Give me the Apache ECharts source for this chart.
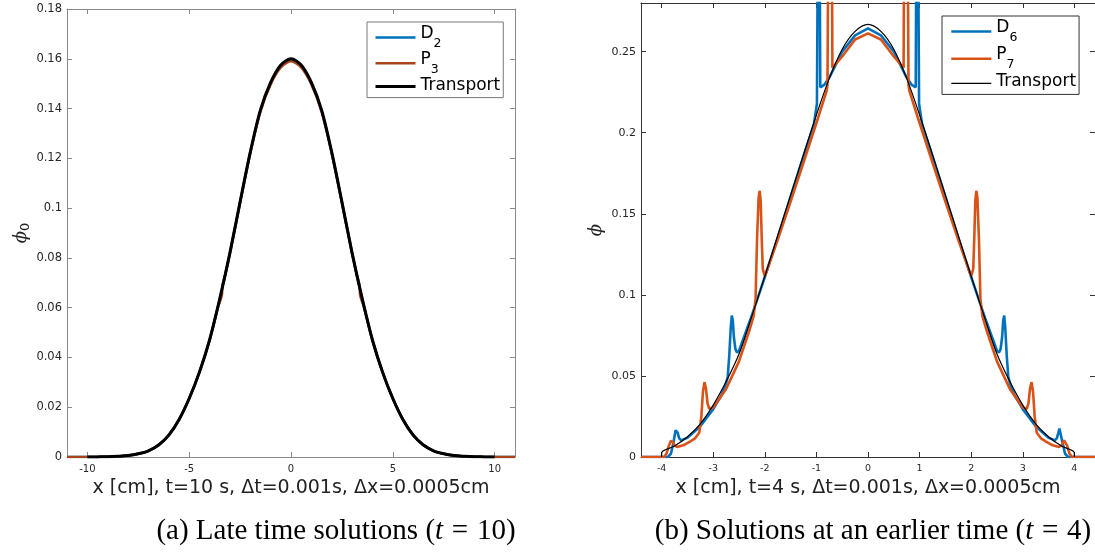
<!DOCTYPE html>
<html>
<head>
<meta charset="utf-8">
<script src="https://cdn.jsdelivr.net/npm/echarts@6/dist/echarts.min.js"></script>
<style>
  html, body { margin: 0; padding: 0; background: #fff; }
  #chart { width: 1095px; height: 552px; }
</style>
</head>
<body>
<div id="chart"></div>
<script>
// ---- panel (a): late time, t = 10 ----
const ticksXA = [-10, -5, 0, 5, 10];
const ticksYA = [0, 0.02, 0.04, 0.06, 0.08, 0.1, 0.12, 0.14, 0.16, 0.18];

const d2A = [
  [-11, 0], [-10, 0], [-9.5, 0.00005], [-9, 0.0001], [-8.5, 0.0003], [-8, 0.0006], [-7.5, 0.0013],
  [-7, 0.0025], [-6.5, 0.0048], [-6, 0.0088], [-5.5, 0.0150], [-5, 0.0235], [-4.5, 0.0340],
  [-4, 0.0469], [-3.5, 0.0634], [-3, 0.0819], [-2.5, 0.1024], [-2, 0.1223], [-1.5, 0.1392],
  [-1, 0.1502], [-0.5, 0.1571], [0, 0.1596], [0.5, 0.1571], [1, 0.1502], [1.5, 0.1392],
  [2, 0.1223], [2.5, 0.1024], [3, 0.0819], [3.5, 0.0634], [4, 0.0469], [4.5, 0.0340],
  [5, 0.0235], [5.5, 0.0150], [6, 0.0088], [6.5, 0.0048], [7, 0.0025], [7.5, 0.0013],
  [8, 0.0006], [8.5, 0.0003], [9, 0.0001], [9.5, 0.00005], [10, 0], [11, 0]
];

const p3A = [
  [-11, 0], [-10, 0], [-9.5, 0.00005], [-9, 0.0001], [-8.5, 0.0003], [-8, 0.0006], [-7.5, 0.0013],
  [-7, 0.0025], [-6.5, 0.0048], [-6, 0.0088], [-5.5, 0.0150], [-5, 0.0235], [-4.5, 0.0340],
  [-4, 0.0468], [-3.6, 0.0598], [-3.39, 0.0652], [-3.37, 0.0688], [-3.2, 0.0742], [-3, 0.0818],
  [-2.5, 0.1022], [-2, 0.1220], [-1.5, 0.1388], [-1, 0.1497], [-0.5, 0.1565], [0, 0.1590],
  [0.5, 0.1565], [1, 0.1497], [1.5, 0.1388], [2, 0.1220], [2.5, 0.1022], [3, 0.0818],
  [3.2, 0.0742], [3.37, 0.0688], [3.39, 0.0652], [3.6, 0.0598], [4, 0.0468], [4.5, 0.0340],
  [5, 0.0235], [5.5, 0.0150], [6, 0.0088], [6.5, 0.0048], [7, 0.0025], [7.5, 0.0013],
  [8, 0.0006], [8.5, 0.0003], [9, 0.0001], [9.5, 0.00005], [10, 0], [11, 0]
];

const transportA = [
  [-10, 0], [-9.5, 0.00005], [-9, 0.0001], [-8.5, 0.0003], [-8, 0.0006], [-7.5, 0.0013],
  [-7, 0.0025], [-6.5, 0.0048], [-6, 0.0088], [-5.5, 0.0150], [-5, 0.0235], [-4.5, 0.0340],
  [-4, 0.0470], [-3.5, 0.0635], [-3, 0.0820], [-2.5, 0.1025], [-2, 0.1225], [-1.5, 0.1395],
  [-1, 0.1505], [-0.5, 0.1575], [0, 0.1600], [0.5, 0.1575], [1, 0.1505], [1.5, 0.1395],
  [2, 0.1225], [2.5, 0.1025], [3, 0.0820], [3.5, 0.0635], [4, 0.0470], [4.5, 0.0340],
  [5, 0.0235], [5.5, 0.0150], [6, 0.0088], [6.5, 0.0048], [7, 0.0025], [7.5, 0.0013],
  [8, 0.0006], [8.5, 0.0003], [9, 0.0001], [9.5, 0.00005], [10, 0]
];

// ---- panel (b): earlier time, t = 4 ----
const ticksXB = [-4, -3, -2, -1, 0, 1, 2, 3, 4];
const ticksYB = [0, 0.05, 0.1, 0.15, 0.2, 0.25];

const d6B = [
  [-4.4, 0], [-3.88, 0], [-3.82, 0.002], [-3.77, 0.009], [-3.73, 0.0165], [-3.71, 0.0175],
  [-3.69, 0.015], [-3.66, 0.0115], [-3.62, 0.0103], [-3.5, 0.0118], [-3.25, 0.0190],
  [-3.0, 0.0295], [-2.85, 0.0375], [-2.76, 0.0445], [-2.72, 0.0493], [-2.69, 0.062],
  [-2.66, 0.080], [-2.64, 0.0872], [-2.62, 0.084], [-2.60, 0.074], [-2.57, 0.0665],
  [-2.54, 0.0645], [-2.5, 0.0655], [-2.25, 0.0875], [-2.0, 0.1110], [-1.75, 0.1355],
  [-1.5, 0.1605], [-1.25, 0.1855], [-1.05, 0.2050], [-0.99, 0.2177], [-0.975, 0.30],
  [-0.96, 0.45], [-0.945, 0.45], [-0.935, 0.30], [-0.925, 0.2280], [-0.85, 0.2295],
  [-0.75, 0.2340], [-0.5, 0.2500], [-0.25, 0.2600], [0, 0.2644],
  [0.25, 0.2600], [0.5, 0.2500], [0.75, 0.2340], [0.85, 0.2295], [0.925, 0.2280],
  [0.935, 0.30], [0.945, 0.45], [0.96, 0.45], [0.975, 0.30], [0.99, 0.2177], [1.05, 0.2050],
  [1.25, 0.1855], [1.5, 0.1605], [1.75, 0.1355], [2.0, 0.1110], [2.25, 0.0875],
  [2.5, 0.0655], [2.54, 0.0645], [2.57, 0.0665], [2.60, 0.074], [2.62, 0.084], [2.64, 0.0872],
  [2.66, 0.080], [2.69, 0.062], [2.72, 0.0493], [2.76, 0.0445], [2.85, 0.0375], [3.0, 0.0295],
  [3.25, 0.0190], [3.5, 0.0118], [3.62, 0.0103], [3.66, 0.0115], [3.69, 0.015], [3.71, 0.0175],
  [3.73, 0.0165], [3.77, 0.009], [3.82, 0.002], [3.88, 0], [4.4, 0]
];

const p7B = [
  [-4.4, 0], [-3.95, 0], [-3.90, 0.0025], [-3.86, 0.007], [-3.82, 0.0100], [-3.80, 0.0103],
  [-3.78, 0.009], [-3.75, 0.007], [-3.70, 0.0062], [-3.58, 0.0072], [-3.45, 0.0095],
  [-3.36, 0.0113], [-3.27, 0.0150], [-3.23, 0.025], [-3.20, 0.040], [-3.17, 0.0462],
  [-3.14, 0.042], [-3.11, 0.033], [-3.08, 0.0298], [-3.0, 0.0305], [-2.75, 0.0420],
  [-2.5, 0.0590], [-2.3, 0.0780], [-2.22, 0.0865], [-2.18, 0.097], [-2.15, 0.135],
  [-2.12, 0.160], [-2.10, 0.1642], [-2.08, 0.158], [-2.06, 0.135], [-2.04, 0.116],
  [-2.0, 0.1115], [-1.75, 0.1340], [-1.5, 0.1575], [-1.25, 0.1815], [-1.0, 0.2060],
  [-0.80, 0.2260], [-0.785, 0.2295], [-0.77, 0.32], [-0.75, 0.45], [-0.72, 0.45],
  [-0.70, 0.32], [-0.69, 0.2400], [-0.5, 0.2470], [-0.25, 0.2575], [0, 0.2613],
  [0.25, 0.2575], [0.5, 0.2470], [0.69, 0.2400], [0.70, 0.32], [0.72, 0.45], [0.75, 0.45],
  [0.77, 0.32], [0.785, 0.2295], [0.80, 0.2260], [1.0, 0.2060], [1.25, 0.1815], [1.5, 0.1575],
  [1.75, 0.1340], [2.0, 0.1115], [2.04, 0.116], [2.06, 0.135], [2.08, 0.158], [2.10, 0.1642],
  [2.12, 0.160], [2.15, 0.135], [2.18, 0.097], [2.22, 0.0865], [2.3, 0.0780], [2.5, 0.0590],
  [2.75, 0.0420], [3.0, 0.0305], [3.08, 0.0298], [3.11, 0.033], [3.14, 0.042], [3.17, 0.0462],
  [3.20, 0.040], [3.23, 0.025], [3.27, 0.0150], [3.36, 0.0113], [3.45, 0.0095], [3.58, 0.0072],
  [3.70, 0.0062], [3.75, 0.007], [3.78, 0.009], [3.80, 0.0103], [3.82, 0.0100], [3.86, 0.007],
  [3.90, 0.0025], [3.95, 0], [4.4, 0]
];

const transportB = [
  [-4.0, 0], [-3.995, 0.003], [-3.75, 0.0068], [-3.5, 0.0125], [-3.25, 0.0205], [-3.0, 0.032],
  [-2.75, 0.0465], [-2.5, 0.0635], [-2.25, 0.087], [-2.0, 0.1115], [-1.75, 0.1365],
  [-1.5, 0.1615], [-1.25, 0.1865], [-1.0, 0.2110], [-0.75, 0.2335], [-0.5, 0.2515],
  [-0.25, 0.2625], [0, 0.2668], [0.25, 0.2625], [0.5, 0.2515], [0.75, 0.2335], [1.0, 0.2110],
  [1.25, 0.1865], [1.5, 0.1615], [1.75, 0.1365], [2.0, 0.1115], [2.25, 0.087], [2.5, 0.0635],
  [2.75, 0.0465], [3.0, 0.032], [3.25, 0.0205], [3.5, 0.0125], [3.75, 0.0068], [3.995, 0.003],
  [4.0, 0]
];

// ---- styling ----
const SANS = 'DejaVu Sans';
const SERIF = 'Liberation Serif';
const legendText = {
  'D2': '{n|D}{s|2}', 'P3': '{n|P}{s|3}', 'Transport t=10': '{n|Transport}',
  'D6': '{n|D}{s|6}', 'P7': '{n|P}{s|7}', 'Transport t=4': '{n|Transport}'
};
const legendRich = {
  n: { fontFamily: SANS, fontSize: 17, color: '#000', verticalAlign: 'top', lineHeight: 20 },
  s: { fontFamily: SANS, fontSize: 12.5, color: '#000', padding: [12, 0, 0, 0] }
};

function xAxisPair(grid, min, max, ticks, axisColor, labelSize, name) {
  const common = {
    type: 'value', gridIndex: grid, min: min, max: max,
    splitLine: { show: false },
    axisLine: { show: true, onZero: false, lineStyle: { color: axisColor, width: 1 } },
    axisTick: { show: true, inside: true, length: 5, customValues: ticks, lineStyle: { color: axisColor } }
  };
  return [
    Object.assign({}, common, {
      position: 'bottom',
      axisLabel: { customValues: ticks, fontFamily: SANS, fontSize: labelSize, color: '#262626', margin: 7 },
      name: name, nameLocation: 'middle', nameGap: 18,
      nameTextStyle: { fontFamily: SANS, fontSize: 19, color: '#222' }
    }),
    Object.assign({}, common, { position: 'top', axisLabel: { show: false } })
  ];
}

function yAxisPair(grid, min, max, ticks, axisColor, labelSize, nameRich, nameGap) {
  const common = {
    type: 'value', gridIndex: grid, min: min, max: max,
    splitLine: { show: false },
    axisLine: { show: true, onZero: false, lineStyle: { color: axisColor, width: 1 } },
    axisTick: { show: true, inside: true, length: 5, customValues: ticks, lineStyle: { color: axisColor } }
  };
  return [
    Object.assign({}, common, {
      position: 'left',
      axisLabel: { customValues: ticks, fontFamily: SANS, fontSize: labelSize, color: '#262626', margin: 5 },
      name: nameRich, nameLocation: 'middle', nameRotate: 90, nameGap: nameGap,
      nameTextStyle: {
        rich: {
          p: { fontFamily: 'DejaVu Serif', fontStyle: 'italic', fontSize: 18, color: '#222' },
          s: { fontFamily: SANS, fontSize: 13, color: '#222', padding: [10, 0, 0, 0] }
        }
      }
    }),
    Object.assign({}, common, { position: 'right', axisLabel: { show: false } })
  ];
}

function lineSeries(name, data, color, width, xi, yi, smooth) {
  return {
    type: 'line', name: name, data: data, xAxisIndex: xi, yAxisIndex: yi,
    symbol: 'none', smooth: smooth, clip: true,
    lineStyle: { color: color, width: width }, itemStyle: { color: color },
    emphasis: { disabled: true }
  };
}

const captionRich = {
  r: { fontFamily: SERIF, fontSize: 29, fill: '#000' },
  i: { fontFamily: SERIF, fontSize: 29, fontStyle: 'italic', fill: '#000' },
  e: { fontFamily: SERIF, fontSize: 29, fill: '#000', padding: [0, 1.5, 0, 1.5] }
};

const chart = echarts.init(document.getElementById('chart'), null, { renderer: 'canvas' });

const option = {
  animation: false,
  backgroundColor: '#fff',
  grid: [
    { left: 67, top: 9, width: 448, height: 448 },
    { left: 641, top: 3, width: 456, height: 454 }
  ],
  xAxis: [].concat(
    xAxisPair(0, -11, 11, ticksXA, '#8a8a8a', 10, 'x [cm], t=10 s, \u0394t=0.001s, \u0394x=0.0005cm'),
    xAxisPair(1, -4.4, 4.4, ticksXB, '#333', 9.5, 'x [cm], t=4 s, \u0394t=0.001s, \u0394x=0.0005cm')
  ),
  yAxis: [].concat(
    yAxisPair(0, 0, 0.18, ticksYA, '#8a8a8a', 11.5, '{p|\u03d5}{s|0}', 33),
    yAxisPair(1, 0, 0.28, ticksYB, '#333', 11, '{p|\u03d5}', 36)
  ),
  legend: [
    {
      orient: 'vertical', left: 367, top: 22, padding: [3, 3, 4, 7],
      itemWidth: 40, itemHeight: 14, itemGap: 0.8,
      backgroundColor: '#fff', borderColor: '#777', borderWidth: 1,
      selectedMode: false, itemStyle: { opacity: 0 },
      data: [
        { name: 'D2', lineStyle: { width: 2.5 } },
        { name: 'P3', lineStyle: { width: 2.5 } },
        { name: 'Transport t=10', lineStyle: { width: 3 } }
      ],
      formatter: function (n) { return legendText[n]; },
      textStyle: { rich: legendRich }
    },
    {
      orient: 'vertical', left: 942, top: 16, padding: [3, 3, 4, 8],
      itemWidth: 40, itemHeight: 14, itemGap: 2.2,
      backgroundColor: '#fff', borderColor: '#333', borderWidth: 1,
      selectedMode: false, itemStyle: { opacity: 0 },
      data: [
        { name: 'D6', lineStyle: { width: 2.6 } },
        { name: 'P7', lineStyle: { width: 2.6 } },
        { name: 'Transport t=4', lineStyle: { width: 1.2 } }
      ],
      formatter: function (n) { return legendText[n]; },
      textStyle: { rich: legendRich }
    }
  ],
  series: [
    lineSeries('D2', d2A, '#0072BD', 2.5, 0, 0, 0.3),
    lineSeries('P3', p3A, '#A8431A', 2.5, 0, 0, 0.3),
    lineSeries('Transport t=10', transportA, '#000000', 3, 0, 0, 0.3),
    lineSeries('D6', d6B, '#0072BD', 2.6, 2, 2, false),
    lineSeries('P7', p7B, '#D95319', 2.6, 2, 2, false),
    lineSeries('Transport t=4', transportB, '#000000', 1.2, 2, 2, 0.3)
  ],
  graphic: [
    {
      type: 'text', x: 336, y: 531, silent: true,
      style: {
        text: '{r|(a) Late time solutions (}{i|t}{e| = }{r|10)}',
        rich: captionRich, textAlign: 'center', textVerticalAlign: 'middle'
      }
    },
    {
      type: 'text', x: 873, y: 531, silent: true,
      style: {
        text: '{r|(b) Solutions at an earlier time (}{i|t}{e| = }{r|4)}',
        rich: captionRich, textAlign: 'center', textVerticalAlign: 'middle'
      }
    }
  ]
};

chart.setOption(option);
</script>
</body>
</html>
